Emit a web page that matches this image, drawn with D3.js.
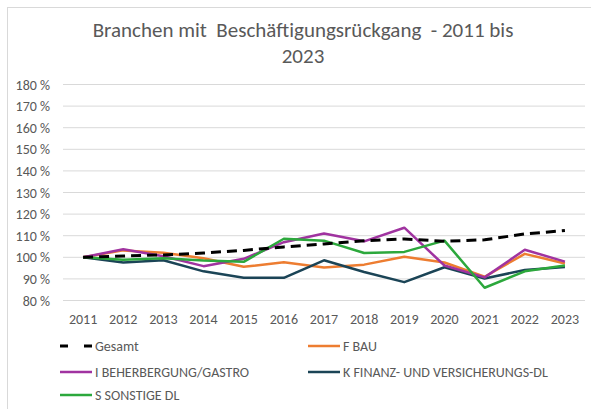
<!DOCTYPE html>
<html>
<head>
<meta charset="utf-8">
<script src="https://cdn.jsdelivr.net/npm/d3@7"></script>
<style>
  body { margin: 0; background: #fff; }
  svg { display: block; font-family: Carlito, Calibri, Lato, "Liberation Sans", sans-serif; }
  .grid line { stroke: #d9d9d9; stroke-width: 1; }
  .axis text, .legend text { fill: #595959; }
</style>
</head>
<body>
<svg id="chart" width="591" height="409"></svg>
<script>
var years = ['2011', '2012', '2013', '2014', '2015', '2016', '2017', '2018', '2019', '2020', '2021', '2022', '2023'];
var yTicks = [80, 90, 100, 110, 120, 130, 140, 150, 160, 170, 180];

var gesamt = [100, 100.6, 101.1, 102, 103.2, 104.8, 106.2, 107.7, 108.5, 107.4, 108.1, 110.8, 112.4];
var fBau = [100, 103.2, 102.1, 99.6, 95.6, 97.7, 95.3, 96.6, 100.3, 97.6, 91, 101.6, 97.1];
var iGastro = [100, 103.7, 100.5, 95.9, 99.3, 107, 111, 107.4, 113.7, 96.2, 90.7, 103.5, 98];
var kFinanz = [100, 97.6, 98.6, 93.5, 90.5, 90.5, 98.6, 93.2, 88.5, 95.4, 90.2, 94.1, 95.5];
var sSonstige = [100, 98.9, 99.6, 98.5, 97.9, 108.6, 107.7, 102, 102.5, 107.7, 85.9, 93.5, 96.2];

var seriesNames = ['Gesamt', 'F BAU', 'I BEHERBERGUNG/GASTRO', 'K FINANZ- UND VERSICHERUNGS-DL', 'S SONSTIGE DL'];
var seriesColors = ['#000000', '#ED7D31', '#A033A0', '#1B4456', '#2CA83C'];
var seriesValues = [gesamt, fBau, iGastro, kFinanz, sSonstige];

(function (d3) {
  'use strict';
  var svg = d3.select('#chart');
  var left = 63, right = 585, top = 84.5, bottom = 300.5;

  // chart frame
  svg.append('rect').attr('x', 7.5).attr('y', 7.5).attr('width', 620).attr('height', 420)
    .attr('fill', 'none').attr('stroke', '#d9d9d9');

  // title
  var title = svg.append('text').attr('text-anchor', 'middle').attr('fill', '#595959')
    .style('font-size', '21px');
  title.append('tspan').attr('x', 303).attr('y', 37).text('Branchen mit\u00a0 Beschäftigungsrückgang\u00a0 - 2011 bis');
  title.append('tspan').attr('x', 303).attr('y', 63).text('2023');

  var x = d3.scaleBand().domain(years).range([left, right]);
  var y = d3.scaleLinear().domain([80, 180]).range([bottom, top]);
  var xc = function (d, i) { return x(years[i]) + x.bandwidth() / 2; };

  // gridlines
  svg.append('g').attr('class', 'grid').selectAll('line').data(yTicks).enter().append('line')
    .attr('x1', left).attr('x2', right)
    .attr('y1', function (d) { return y(d); }).attr('y2', function (d) { return y(d); });

  // y labels
  svg.append('g').attr('class', 'axis').selectAll('text').data(yTicks).enter().append('text')
    .attr('x', 50).attr('y', function (d) { return y(d) + 5; })
    .attr('text-anchor', 'end').style('font-size', '14px')
    .text(function (d) { return d + ' %'; });

  // x labels
  svg.append('g').attr('class', 'axis').selectAll('text').data(years).enter().append('text')
    .attr('x', function (d) { return x(d) + x.bandwidth() / 2; }).attr('y', 324)
    .attr('text-anchor', 'middle').style('font-size', '14px')
    .text(function (d) { return d; });

  var line = d3.line().x(xc).y(function (d) { return y(d); });

  // draw series in reverse so Gesamt sits on top
  var order = [1, 3, 2, 4, 0];
  order.forEach(function (s) {
    svg.append('path').datum(seriesValues[s])
      .attr('fill', 'none')
      .attr('stroke', seriesColors[s])
      .attr('stroke-width', s === 0 ? 3 : 2.5)
      .attr('stroke-dasharray', s === 0 ? '10,6' : null)
      .attr('stroke-linejoin', 'round')
      .attr('d', line);
  });

  // legend
  var legendPos = [[60, 346], [308, 346], [60, 372], [308, 372], [60, 395]];
  var legend = svg.append('g').attr('class', 'legend');
  seriesNames.forEach(function (name, i) {
    var p = legendPos[i];
    legend.append('line').attr('x1', p[0]).attr('x2', p[0] + 32)
      .attr('y1', p[1]).attr('y2', p[1])
      .attr('stroke', seriesColors[i]).attr('stroke-width', i === 0 ? 3 : 2.5)
      .attr('stroke-dasharray', i === 0 ? '8,16' : null);
    legend.append('text').attr('x', p[0] + 35).attr('y', p[1] + 5)
      .style('font-size', '14px').text(name);
  });
})(d3);
</script>
</body>
</html>
